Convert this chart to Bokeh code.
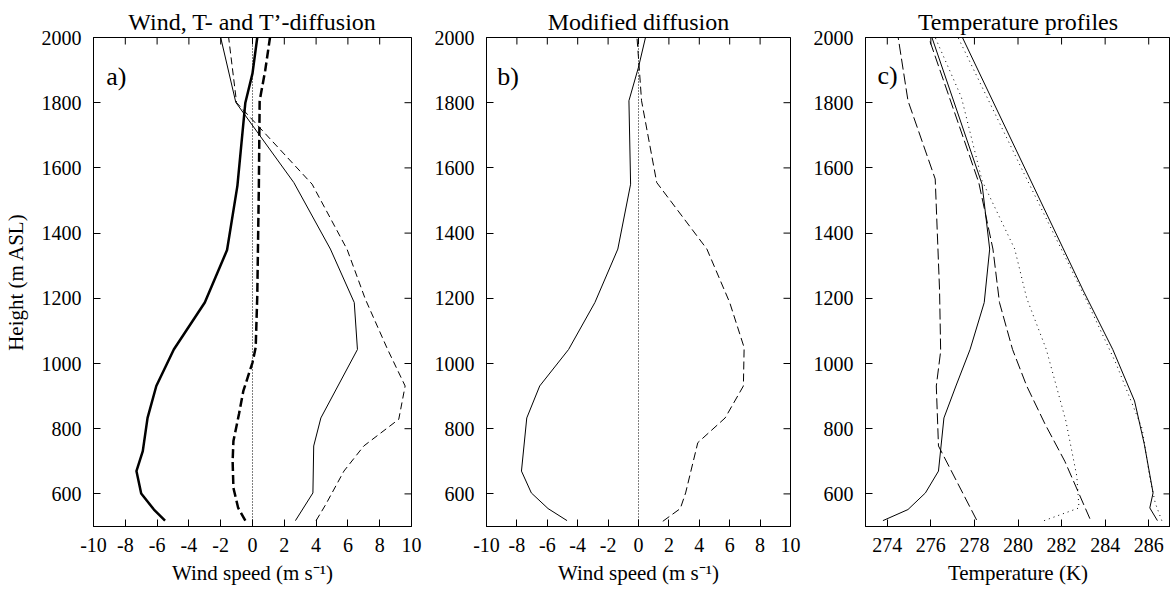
from bokeh.plotting import figure
from bokeh.models import Range1d, FixedTicker, Label
from bokeh.layouts import row
from bokeh.embed import file_html
from bokeh.resources import INLINE
import math

# ---------------- data ----------------
# panel a) wind, T- and T'-diffusion
a_thick_solid_h = [518, 552, 601, 670, 731, 833, 931, 1043, 1187, 1348, 1545, 1800, 1890, 2000]
a_thick_solid_w = [-5.5, -6.2, -7.0, -7.3, -6.9, -6.6, -6.05, -4.95, -3.0, -1.6, -0.95, -0.45, 0.0, 0.3]

a_thick_dash_h = [518, 557, 618, 700, 762, 845, 915, 1003, 1049, 1207, 1545, 1806, 1899, 2000]
a_thick_dash_w = [-0.45, -0.9, -1.2, -1.25, -1.2, -0.85, -0.58, 0.0, 0.2, 0.3, 0.4, 0.45, 0.8, 1.1]

a_thin_solid_h = [518, 603, 747, 833, 1043, 1187, 1351, 1555, 1801, 2000]
a_thin_solid_w = [2.7, 3.8, 3.85, 4.3, 6.6, 6.4, 4.9, 2.6, -1.05, -2.0]

a_thin_dash_h = [518, 567, 670, 747, 829, 931, 1043, 1197, 1350, 1550, 1800, 2000]
a_thin_dash_w = [4.0, 4.6, 5.75, 7.0, 9.2, 9.6, 8.5, 7.1, 5.95, 3.75, -1.0, -1.5]

# panel b) modified diffusion
b_solid_h = [518, 555, 603, 670, 833, 931, 1043, 1187, 1351, 1550, 1806, 1909, 2000]
b_solid_w = [-4.7, -5.95, -7.05, -7.7, -7.35, -6.5, -4.6, -2.87, -1.36, -0.52, -0.63, 0.0, 0.46]

b_dash_h = [516, 555, 603, 757, 833, 931, 1049, 1187, 1351, 1555, 1806, 1899, 2000]
b_dash_w = [1.6, 2.75, 3.1, 3.9, 5.7, 6.9, 6.95, 6.0, 4.5, 1.2, 0.2, 0.06, -0.1]

zero_w = [0, 0]
zero_h = [500, 2000]

# panel c) temperature profiles
c_solid1_h = [518, 552, 603, 670, 833, 931, 1043, 1187, 1351, 1550, 2000]
c_solid1_t = [273.8, 274.95, 275.75, 276.35, 276.6, 277.15, 277.8, 278.45, 278.7, 278.35, 276.05]

c_dash1_h = [520, 747, 931, 1038, 1223, 1566, 1806, 2000]
c_dash1_t = [278.1, 276.35, 276.25, 276.45, 276.4, 276.2, 274.95, 274.5]

c_dash2_h = [524, 700, 813, 931, 1043, 1187, 1351, 1555, 2000]
c_dash2_t = [283.3, 282.15, 281.25, 280.4, 279.75, 279.15, 278.85, 278.2, 275.9]

c_dot1_h = [518, 557, 654, 823, 1043, 1200, 1351, 1561, 1817, 2000]
c_dot1_t = [281.2, 282.8, 282.7, 282.2, 281.3, 280.4, 279.85, 278.35, 277.4, 276.2]

c_solid2_h = [518, 557, 603, 752, 885, 1043, 1223, 2000]
c_solid2_t = [286.4, 286.05, 286.2, 285.8, 285.35, 284.35, 283.0, 277.45]

c_dot2_h = [518, 572, 650, 800, 1000, 1200, 1600, 2000]
c_dot2_t = [286.6, 286.3, 286.05, 285.7, 284.5, 283.1, 280.15, 277.25]

wind_range = (-10, 10)
temp_range = (273, 287)
height_range = (500, 2000)

wind_ticks = [-10, -8, -6, -4, -2, 0, 2, 4, 6, 8, 10]
temp_ticks = [274, 276, 278, 280, 282, 284, 286]
height_ticks = [600, 800, 1000, 1200, 1400, 1600, 1800, 2000]

titles = ["Wind, T- and T\u2019-diffusion", "Modified diffusion", "Temperature profiles"]
wind_label = "Wind speed (m s\u207b\u00b9)"
temp_label = "Temperature (K)"
height_label = "Height (m ASL)"
panel_tags = ["a)", "b)", "c)"]

FONT = "Liberation Serif"
BLACK = "black"


def style_axis(ax, ticks):
    ax.ticker = FixedTicker(ticks=ticks)
    ax.major_label_overrides = {t: str(t) for t in ticks}
    ax.major_tick_in = 7
    ax.major_tick_out = 0
    ax.minor_tick_line_color = None
    ax.axis_line_color = BLACK
    ax.major_tick_line_color = BLACK
    ax.major_label_text_color = BLACK
    ax.major_label_text_font = FONT
    ax.major_label_text_font_size = "20px"
    ax.major_label_standoff = 12
    ax.axis_label_text_font = FONT
    ax.axis_label_text_font_size = "21px"
    ax.axis_label_text_font_style = "normal"
    ax.axis_label_text_color = BLACK


def make_fig(xr, xticks, width, height, left, right, title, xlabel, ylabel=None):
    p = figure(width=width, height=height, x_range=Range1d(*xr), y_range=Range1d(*height_range),
               output_backend="svg", toolbar_location=None,
               min_border_left=left, min_border_right=right,
               min_border_top=37, min_border_bottom=height - 37 - 489, title=title)
    p.title.text_font = FONT
    p.title.text_font_size = "24px"
    p.title.text_font_style = "normal"
    p.title.align = "center"
    p.title.standoff = 6
    p.title.text_color = BLACK
    p.grid.visible = False
    p.outline_line_color = BLACK
    p.outline_line_width = 1
    p.outline_line_alpha = 1
    p.background_fill_color = "white"
    p.border_fill_color = "white"

    for ax in p.xaxis:
        style_axis(ax, xticks)
        ax.major_label_standoff = 11
        ax.axis_label = xlabel
        ax.axis_label_standoff = 6
    for ax in p.yaxis:
        style_axis(ax, height_ticks)
        if ylabel:
            ax.axis_label = ylabel
            ax.axis_label_standoff = 11

    # inward tick marks on the top and right frame edges (outer half is clipped by the frame)
    p.scatter(xticks, [height_range[1]] * len(xticks), marker="dash", size=14,
              angle=math.pi / 2, line_color=BLACK, line_width=1)
    p.scatter([xr[1]] * len(height_ticks), height_ticks, marker="dash", size=14,
              line_color=BLACK, line_width=1)
    return p


def panel_label(p, x, y, txt):
    p.add_layout(Label(x=x, y=y, text=txt, text_font=FONT, text_font_size="26px",
                       text_baseline="alphabetic", text_align="left", text_color=BLACK))


H = 590
# panel a
p1 = make_fig(wind_range, wind_ticks, 431, H, 93, 20, titles[0], wind_label, height_label)
p1.line(zero_w, zero_h, line_color=BLACK, line_width=1, line_dash="1 2")
p1.line(a_thick_solid_w, a_thick_solid_h, line_color=BLACK, line_width=2.5)
p1.line(a_thick_dash_w, a_thick_dash_h, line_color=BLACK, line_width=2.5, line_dash="9 4")
p1.line(a_thin_solid_w, a_thin_solid_h, line_color=BLACK, line_width=1)
p1.line(a_thin_dash_w, a_thin_dash_h, line_color=BLACK, line_width=1, line_dash="7 4")
panel_label(p1, -9.2, 1880, panel_tags[0])

# panel b
p2 = make_fig(wind_range, wind_ticks, 379, H, 41, 20, titles[1], wind_label)
p2.line(zero_w, zero_h, line_color=BLACK, line_width=1, line_dash="1 2")
p2.line(b_solid_w, b_solid_h, line_color=BLACK, line_width=1)
p2.line(b_dash_w, b_dash_h, line_color=BLACK, line_width=1, line_dash="8 4")
panel_label(p2, -9.3, 1880, panel_tags[1])

# panel c
p3 = make_fig(temp_range, temp_ticks, 360, H, 42, 0, titles[2], temp_label)
p3.line(c_solid1_t, c_solid1_h, line_color=BLACK, line_width=1)
p3.line(c_dash1_t, c_dash1_h, line_color=BLACK, line_width=1, line_dash="11 4")
p3.line(c_dash2_t, c_dash2_h, line_color=BLACK, line_width=1, line_dash="11 4")
p3.line(c_dot1_t, c_dot1_h, line_color=BLACK, line_width=1, line_dash="1 4")
p3.line(c_solid2_t, c_solid2_h, line_color=BLACK, line_width=1)
p3.line(c_dot2_t, c_dot2_h, line_color=BLACK, line_width=1, line_dash="1 4")
panel_label(p3, 273.55, 1883, panel_tags[2])

layout = row(p1, p2, p3)
open("out.html", "w").write(file_html(layout, INLINE))
